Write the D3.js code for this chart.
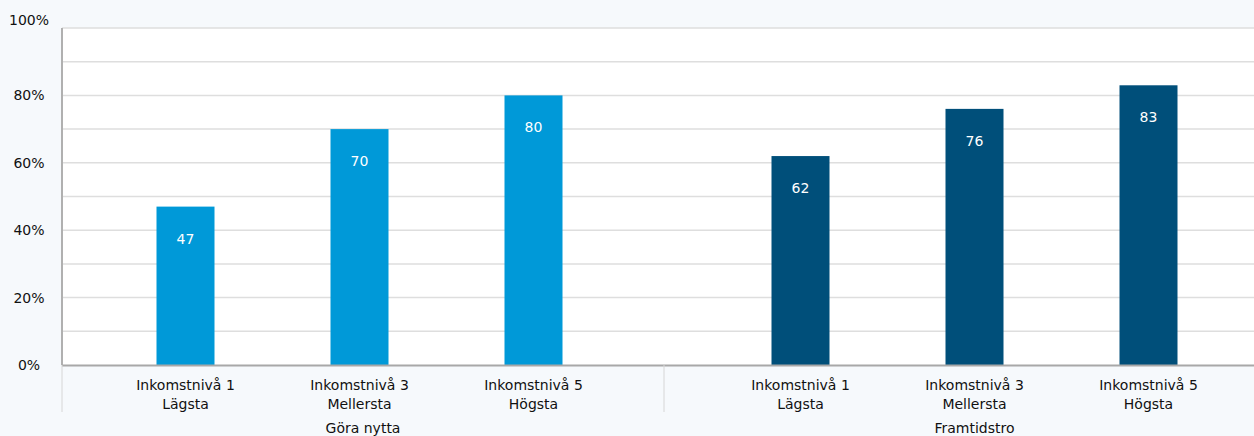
<!DOCTYPE html>
<html>
<head>
<meta charset="utf-8">
<script src="https://cdn.jsdelivr.net/npm/d3@7"></script>
<style>
  body { margin: 0; background: #f6f9fc; }
  text { font-family: "DejaVu Sans", Verdana, sans-serif; fill: #111; }
</style>
</head>
<body>
<div id="chart"></div>
<script>
// data
const groups = ["Göra nytta", "Framtidstro"];
const levels = ["Inkomstnivå 1|Lägsta", "Inkomstnivå 3|Mellersta", "Inkomstnivå 5|Högsta"];
const goraNytta = [47, 70, 80];
const framtidstro = [62, 76, 83];
const yTicks = [0, 20, 40, 60, 80, 100];
const colors = ["#0099d8", "#004f7a"];

const width = 1254, height = 436;
const plot = { left: 62, right: 1254, top: 28, bottom: 365 };

const rows = [];
groups.forEach(function(g, gi) {
  const vals = gi === 0 ? goraNytta : framtidstro;
  levels.forEach(function(l, li) {
    rows.push({ group: g, level: l, value: vals[li], color: colors[gi] });
  });
});

const svg = d3.select("#chart").append("svg")
  .attr("width", width)
  .attr("height", height);

// white plot area
svg.append("rect")
  .attr("x", plot.left).attr("y", plot.top)
  .attr("width", plot.right - plot.left)
  .attr("height", plot.bottom - plot.top)
  .attr("fill", "#fff");

const y = d3.scaleLinear().domain([0, 100]).range([plot.bottom, plot.top]);

const xGroup = d3.scaleBand().domain(groups).range([52, 1282]);
const xInner = d3.scalePoint().domain(levels).range([-174, 174]);
const barW = 58;
const divider = 664;

// gridlines every 10%
svg.append("g").selectAll("line")
  .data(d3.range(10, 101, 10))
  .enter().append("line")
  .attr("x1", plot.left).attr("x2", plot.right)
  .attr("y1", function(d) { return y(d); })
  .attr("y2", function(d) { return y(d); })
  .attr("stroke", "#dedede")
  .attr("stroke-width", 1.5);

// y tick labels
svg.append("g").selectAll("text")
  .data(yTicks)
  .enter().append("text")
  .attr("x", 29)
  .attr("y", function(d) { return d === 100 ? y(d) - 8 : y(d); })
  .attr("text-anchor", "middle")
  .attr("dominant-baseline", "central")
  .style("font-size", "14px")
  .text(function(d) { return d + "%"; });

// bars
const cx = function(d) { return xGroup(d.group) + xGroup.bandwidth() / 2 + xInner(d.level); };

svg.append("g").selectAll("rect")
  .data(rows)
  .enter().append("rect")
  .attr("x", function(d) { return cx(d) - barW / 2; })
  .attr("y", function(d) { return y(d.value); })
  .attr("width", barW)
  .attr("height", function(d) { return plot.bottom - y(d.value); })
  .attr("fill", function(d) { return d.color; });

svg.append("g").selectAll("text")
  .data(rows)
  .enter().append("text")
  .attr("x", cx)
  .attr("y", function(d) { return y(d.value) + 32; })
  .attr("text-anchor", "middle")
  .attr("dominant-baseline", "central")
  .style("font-size", "14px")
  .style("fill", "#fff")
  .text(function(d) { return d.value; });

// axes lines
svg.append("line")
  .attr("x1", plot.left).attr("x2", plot.left)
  .attr("y1", plot.top).attr("y2", plot.bottom)
  .attr("stroke", "#b0b0b0").attr("stroke-width", 2);

svg.append("line")
  .attr("x1", plot.left).attr("x2", plot.right)
  .attr("y1", plot.bottom + 0.5).attr("y2", plot.bottom + 0.5)
  .attr("stroke", "#a8a8a8").attr("stroke-width", 2);

// group separators below the axis
svg.append("g").selectAll("line")
  .data([plot.left, divider])
  .enter().append("line")
  .attr("x1", function(d) { return d; }).attr("x2", function(d) { return d; })
  .attr("y1", plot.bottom).attr("y2", 412)
  .attr("stroke", "#d6d6d6").attr("stroke-width", 1);

// category labels (two lines)
const cat = svg.append("g").selectAll("text")
  .data(rows)
  .enter().append("text")
  .attr("x", cx)
  .attr("y", 390)
  .attr("text-anchor", "middle")
  .style("font-size", "14px");

cat.append("tspan")
  .attr("x", cx)
  .text(function(d) { return d.level.split("|")[0]; });
cat.append("tspan")
  .attr("x", cx)
  .attr("dy", 19)
  .text(function(d) { return d.level.split("|")[1]; });

// group labels
svg.append("g").selectAll("text")
  .data(groups)
  .enter().append("text")
  .attr("x", function(d, i) { return i === 0 ? (plot.left + divider) / 2 : xGroup(d) + xGroup.bandwidth() / 2; })
  .attr("y", 433)
  .attr("text-anchor", "middle")
  .style("font-size", "14px")
  .text(function(d) { return d; });
</script>
</body>
</html>
